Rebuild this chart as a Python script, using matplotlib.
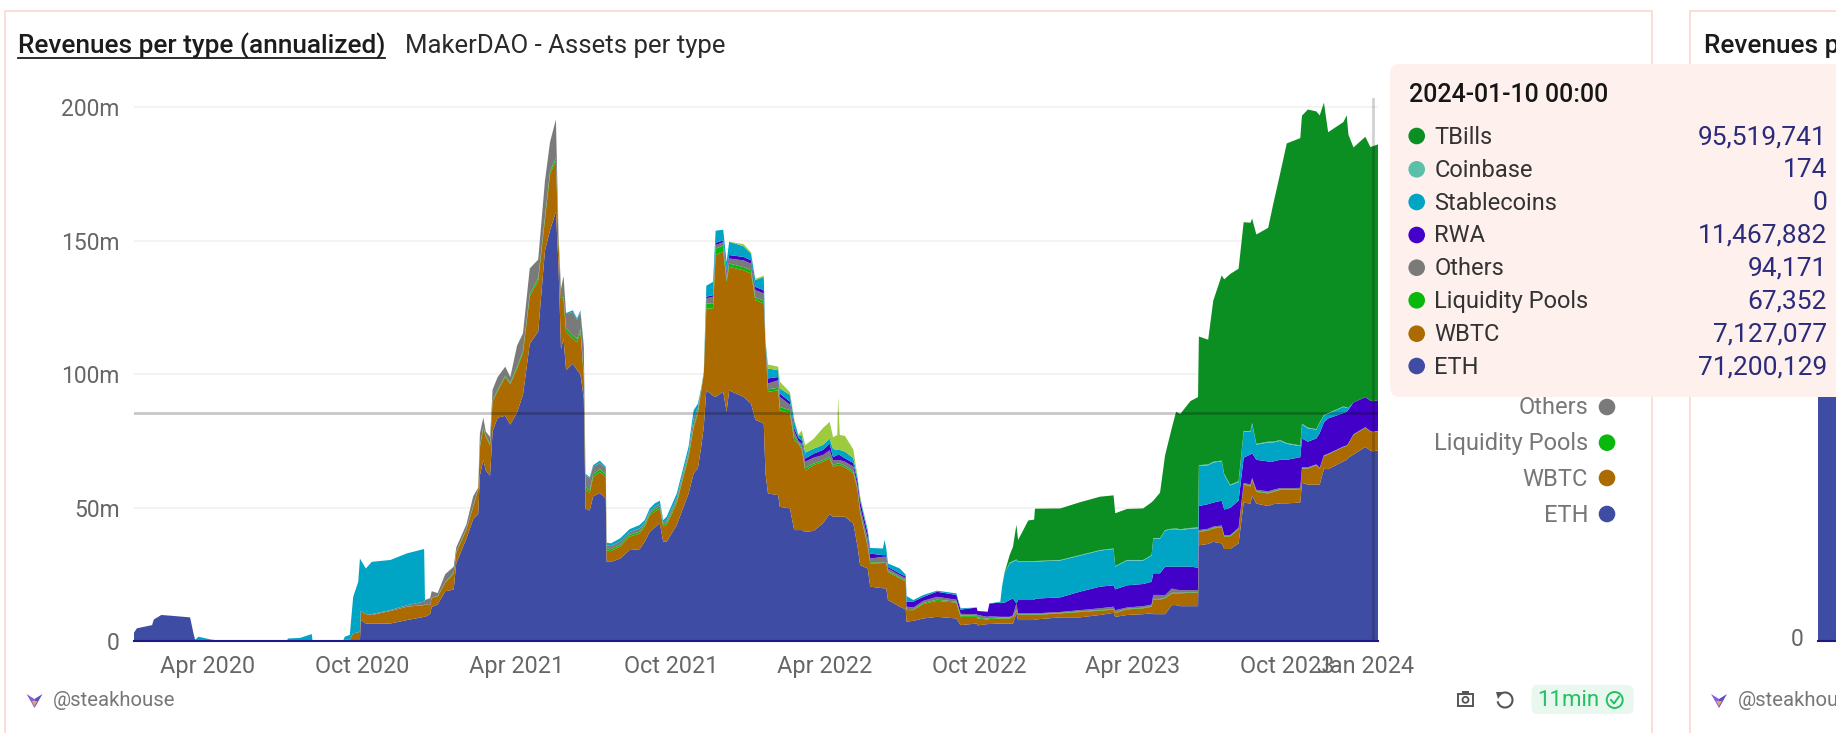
import numpy as np
import pandas as pd
import matplotlib
matplotlib.use("Agg")
import matplotlib.pyplot as plt
from matplotlib.patches import Circle, FancyBboxPatch, Polygon, Rectangle, Arc

plt.rcParams["font.family"] = ["Roboto", "DejaVu Sans"]

# days since 2020-01-04, one entry per sample
days = [0, 4, 22, 24, 33, 45, 67, 71, 73, 77,
        91, 106, 181, 183, 197, 211, 212, 248, 250, 256,
        260, 266, 268, 269, 275, 282, 304, 324, 344, 345,
        351, 353, 360, 369, 379, 382, 394, 402, 408, 410,
        414, 417, 422, 425, 431, 440, 446, 454, 461, 469,
        479, 487, 493, 500, 503, 506, 509, 512, 520, 525,
        529, 533, 535, 540, 544, 552, 559, 560, 565, 576,
        587, 599, 605, 611, 617, 623, 627, 631, 643, 651,
        657, 663, 668, 672, 675, 678, 686, 689, 698, 702,
        705, 722, 731, 736, 746, 748, 751, 763, 765, 777,
        782, 787, 791, 795, 805, 816, 824, 828, 833, 834,
        836, 842, 852, 857, 860, 869, 872, 887, 889, 891,
        893, 907, 914, 915, 923, 935, 951, 974, 979, 998,
        999, 1011, 1013, 1026, 1028, 1031, 1037, 1041, 1045, 1047,
        1053, 1059, 1066, 1067, 1097, 1120, 1144, 1160, 1162, 1176,
        1195, 1205, 1207, 1215, 1221, 1229, 1234, 1239, 1251, 1260,
        1261, 1272, 1278, 1288, 1291, 1298, 1308, 1314, 1322, 1324,
        1329, 1343, 1349, 1357, 1365, 1381, 1383, 1390, 1400, 1404,
        1409, 1414, 1432, 1436, 1438, 1444, 1458, 1464, 1467, 1473]

# all series in millions
eth = [3, 4.9, 6.1, 8.2, 9.9, 9.6, 9, 3, .5, .3,
       .1, .05, .05, 0, 0, 0, 0, 0, 0, 0,
       0, 0, 0, 8, 6.7, 6.6, 6.7, 8, 9.2, 9.2,
       10.2, 12.9, 13.8, 18.8, 19.4, 29.3, 38.5, 45.7, 47.7, 62.2,
       68, 64, 62, 78.6, 83.8, 84.5, 81.2, 85.8, 92.4, 111.4,
       116, 146.3, 154, 161, 141, 109.5, 113.4, 101.6, 104, 101.6,
       100, 91, 49.7, 49, 54.3, 55.6, 53.6, 29.8, 29.8, 31,
       34.2, 34.5, 37.3, 41, 42.7, 44.2, 37.3, 37.3, 43.6, 50.4,
       55.4, 63, 64.8, 73, 80.4, 94, 92, 91.6, 93.5, 86,
       94, 91.6, 89, 83, 81.6, 63, 55.4, 54.8, 50.4, 49.8,
       41.7, 41.7, 41.7, 41, 41.4, 44.2, 47.7, 46.7, 46.7, 46.7,
       46.7, 46.7, 44.2, 35.5, 28.6, 27.3, 20.5, 19.9, 19.9, 19.9,
       15.5, 13, 12, 7.4, 7.7, 8.6, 9.2, 8.6, 6.1, 6.7,
       6, 6.5, 6.5, 6.7, 6.7, 6.7, 6.7, 6.7, 10.5, 8,
       8, 8, 8, 8.2, 9, 9, 9.9, 10.7, 9.2, 9.9,
       10.2, 10.5, 10.2, 10.2, 10.2, 13.6, 13.6, 13.2, 13.2, 13.2,
       36, 36.5, 37.3, 36.7, 34.6, 34.6, 36.7, 52, 51.6, 54.5,
       51.6, 50.7, 51.4, 51.7, 51.7, 52, 59.4, 58.7, 58.7, 58.7,
       64.7, 64.5, 67.4, 68, 68.8, 70, 72.8, 71.5, 71.2, 71.5]

wbtc = [0, 0, 0, 0, 0, 0, 0, 0, 0, 0,
        0, 0, 0, .1, .2, .3, .1, .1, .6, .6,
        3, 3.4, 3.7, 3.4, 3.5, 3.3, 4.7, 5, 4.4, 4.8,
        3.3, 3.5, 3, 3.2, 6, 3.9, 3.3, 4.6, 9.2, 10.5,
        11.9, 12.6, 11.3, 11.2, 9.9, 14.5, 15.1, 16.4, 15.6, 17.8,
        19, 11.7, 21, 19, 9, 18.4, 14.5, 14.4, 9.4, 10.4,
        16, 8, 7.3, 6.6, 7.2, 7.9, 7.9, 4.4, 4, 4.5,
        5, 5.9, 5.7, 6.3, 5.9, 5.6, 5.7, 6.3, 8.1, 11.3,
        13.6, 17, 20.6, 21, 19.6, 30.7, 32.7, 53.1, 52.5, 48.7,
        46.3, 47.4, 48.8, 44.8, 45, 48.6, 38.1, 39.2, 36.2, 35.6,
        33.7, 32.3, 30, 23, 24.6, 23.1, 20.8, 18.7, 19.3, 19.3,
        19.3, 18.5, 18.8, 21.2, 19.4, 8.2, 8.7, 9.1, 9.1, 9.1,
        10.5, 10.6, 10.5, 4.3, 4, 5.4, 6, 5.9, 3.1, 2.5,
        2.6, 1.7, 1.9, 1.9, 1.9, 1.9, 1.9, 2.2, 1, 1.9,
        1.9, 1.9, 1.9, 1.7, 1.5, 2, 1.6, 1.2, 1.5, 2.1,
        2.2, 2.5, 5.5, 5.5, 5.9, 4.4, 4.4, 4.8, 5, 5,
        5, 5, 5, 6, 4.7, 4.7, 5.3, 6.7, 6.4, 6,
        4.4, 4.7, 4.6, 5, 5, 5, 5.3, 6, 7.3, 6,
        4.7, 5.5, 5.4, 5.2, 5.2, 7.4, 7.2, 7.1, 7.127, 7.2]

liquidity_pools = [0] * 32 + [
    .2, .2, .3, .3, .3, .3, .2, .5,
    .5, .5, .5, .5, .5, .5, .5, .7, .8, 1,
    1, 1, 1, 1, .5, .7, 1, 1.2, 1.2, 1.2,
    1.2, 1, 1, 1, 1, 1, 1, .8, .7, .7,
    .7, .7, .7, .7, .8, .8, .7, .7, .8, .8,
    .8, .8, .8, .5, .5, 1.9, 1.9, 2.4, 2.2, 1,
    1.2, 1.2, 1.2, 1, 1, .5, .9, 1, 1.2, 1.2,
    1.3, .5, .8, 1, .6, .6, .6, .6, .6, .6,
    .6, .6, .6, .5, .5, .6, .5, .5, .5, .5,
    .4, .4, .4, .5, .3, .4, .4, .4, .5, .4,
    .3, .3, .3, .3, .3, .3, .3, .3, .2, .2,
    .2, .2, .2, .2, .2, .2, .2, .2, .2, .2,
    .2, .2, .2, .2, .2, .2, .2, .2, .2, .2,
    .2, .2, .2, .2, .2, .2, .2, .2, .2, .2,
    .2, .2, .2, .2, .2, .1, .1, .1, .1, .1,
    .1, .1, .1, .1, .1, .1, .1, .07, .067, .07]

others = [0] * 25 + [
    .3, .3, .6, 1.3, 1.5,
    2.7, 2.4, 1.1, 3, 2.3, 1.7, 1.7, 3.7, .5, 4.7,
    3.4, 1.5, 2.8, 4, 4.8, 3.4, 2.2, 7.9, 6.6, 9.5,
    7, 13.5, 11, 14.5, 2.5, 3.4, 8, 5.4, 8.8, 7.2,
    6.2, 10.3, 4.3, 4.4, 3, 2.2, 2.4, 1, 1.2, 1.2,
    1, 1.2, .7, .7, 1, 1, .7, 1, 1.2, 1.2,
    1.2, 2.8, 1.2, .5, .5, 1.9, 2.5, 1.3, 1.3, 2,
    1.9, 2.5, 2.5, 2.8, 2.7, .5, 2.2, 2.8, 3.8, 2,
    2, .6, 1.5, 2.3, 2.2, 1.9, 2.5, 1.9, 1.3, 1.3,
    1.3, 1.5, 1.9, .8, 2, 2.5, 1.3, 2.2, 2.2, 2.2,
    .9, .8, .8, .8, .7, .8, 1.1, .7, .6, .6,
    1, .7, .7, .3, .3, .3, .3, .6, 2.5, .4,
    .4, .4, .4, .4, .3, .5, .7, .9, .8, .5,
    .6, .6, 1.5, 1.5, 1, 1.6, 1.2, 1, .8, .8,
    .5, .5, .5, .5, .3, .3, .3, .4, .6, .5,
    .6, .6, .6, .5, .5, .4, .4, .4, .2, .2,
    .2, .2, .1, .1, .1, .1, .1, .09, .094, .09]

rwa = [0] * 85 + [
    .6, .6, .9, .7, 1,
    1.3, 1.3, 1.2, 1.2, 1.2, 0, 1.9, 1.2, 1.2, 1.2,
    1.2, 1.1, 1.2, 1.2, 1.5, 1.9, 2.5, 1.1, 1.9, 1.9,
    1.9, 1.3, 1.3, 1.9, 2.3, 1.9, 1.9, .6, .6, .6,
    .6, .6, .6, 1.9, 2.2, 1.5, 1.9, 1.8, 1.6, 2.5,
    1.5, 1.9, 4.8, 5.3, 5.3, 5.3, 6.3, 6.3, 0, 5,
    5, 5, 5, 5.5, 5.5, 6.9, 8.1, 8, 7.8, 8.3,
    8.3, 8.5, 8.1, 8.1, 10.7, 8.2, 8.5, 8.8, 8.8, 8.4,
    9, 9.2, 9, 9.3, 9.6, 10.2, 10.2, 9.5, 11.2, 9.3,
    11.2, 11.2, 10.6, 10.6, 10.6, 11.5, 10.8, 9.6, 9.7, 13,
    12.3, 13.2, 12.5, 12.6, 12.6, 11.9, 11.3, 11.4, 11.468, 11.5]

stablecoins = [0, 0, 0, 0, 0, 0, 0, 0, .2, 1.45,
               .65, .05, .05, 1, 1.1, 2.45, 0, 0, 1.15, 1.8,
               13.7, 18.9, 27.3, 19.1, 17.1, 19.6, 18.8, 19.4, 19.7, 0,
               0, 0, 0, 0, 0, 0, 0, 0, 0, 0,
               0, 0, 0, 0, 0, 0, 0, 0, 0, 0,
               0, 0, 0, 0, 0, 0, 0, .4, .6, .6,
               .6, .5, .5, .5, .5, 1, .5, 1, 1, 1.2,
               1.1, 1.3, 1, 1.1, 1.3, 1.1, 1, 1.4, 1.7, 1.7,
               2, 3, 1.6, 0, 0, 4.1, 5, 4.5, 4, 3.3,
               5, 4, 2.5, 2.5, 5, 0, 3.7, 2.6, 2, 2.5,
               2.8, 1, 2, 2.2, 1.9, 1.9, 1.9, 3.1, 1.9, 1.9,
               1.9, 2.5, 1.9, 1.3, 1, 1.3, 2.1, 2.5, 5.7, 2.5,
               1.3, 1.9, .7, 2.1, .6, .7, .4, .6, .5, 0,
               0, 0, 0, .4, 6, 11, 13.7, 13.7, 16.3, 14.3,
               14.3, 14.3, 14.3, 13.9, 13.8, 13.5, 13.5, 13.6, 8.5, 9.3,
               8.8, 9.8, 13, 13, 13.5, 14, 14.1, 13.7, 14.2, 14.8,
               15, 14.6, 15, 14.7, 13, 8.4, 7, 9.7, 8.5, 11,
               5.7, 7.1, 7.1, 7.1, 6, 4.1, 5.2, 5, 3.3, 3.8,
               2.6, 1.8, 2.3, 1.5, .5, 0, 0, 0, 0, 0]

coinbase = [0] * 136 + [
    .3, .3, .2, .2,
    .2, .2, .2, .2, .2, .2, .2, .2, .2, .2,
    .2, .2, .2, .2, .2, .2, .3, .3, .3, .3,
    .3, .3, .3, .3, .3, .3, .3, .3, .3, .3,
    .3, .3, .3, .3, .3, .3, .3, .3, .2, .2,
    .2, .2, .2, .2, .1, 0, 0, 0, .0002, 0]

tbills = [0] * 135 + [
    .3, 2.8, 5.4, 13, 8,
    11.6, 15.3, 15.6, 19.6, 19.3, 19.8, 20, 19.9, 19.8, 19.1,
    19.3, 19.8, 14, 17, 28, 37.8, 43.7, 43.2, 47.5, 48.8,
    48.2, 46.7, 60.3, 69.4, 72.9, 78.9, 79.6, 78.2, 78, 76.6,
    78.4, 80.1, 89, 99.6, 112.2, 115.1, 115.4, 119.1, 119, 115,
    117, 105.2, 106.5, 109.3, 102.4, 95.5, 97.5, 95, 95.52, 95.8]

# light green band of 2022, its legend entry sits behind the tooltip
light_green = [0] * 91 + [
    .8, .5, .5, .5, 0, 1.5, 1.3, 2.5, 1,
    .7, .2, 1.8, 2.8, 3.7, 6.3, 6.2, 4.4, 5.6, 19.9,
    5.6, 5.9, 3.2, .5, .6] + [0] * 75

start_date = "2020-01-04"
end_date = "2024-01-16"
hover_date = "2024-01-10"
hover_level = 85.4

tick_dates = ["2020-04-01", "2020-10-01", "2021-04-01", "2021-10-01", "2022-04-01",
              "2022-10-01", "2023-04-01", "2023-10-01", "2024-01-01"]
tick_labels = ["Apr 2020", "Oct 2020", "Apr 2021", "Oct 2021", "Apr 2022",
               "Oct 2022", "Apr 2023", "Oct 2023", "Jan 2024"]
y_ticks = [0, 50, 100, 150, 200]
y_labels = ["0", "50m", "100m", "150m", "200m"]

tooltip_names = ["TBills", "Coinbase", "Stablecoins", "RWA", "Others", "Liquidity Pools", "WBTC", "ETH"]
tooltip_values = ["95,519,741", "174", "0", "11,467,882", "94,171", "67,352", "7,127,077", "71,200,129"]
legend_names = ["Others", "Liquidity Pools", "WBTC", "ETH"]

colors = {"ETH": "#3f4ca3", "WBTC": "#ab6b00", "Liquidity Pools": "#08b90c", "Others": "#7a7a7a",
          "RWA": "#4300c8", "Stablecoins": "#00a4c4", "Coinbase": "#5cbfa9", "TBills": "#0b8e22"}
light_green_color = "#9ccb3f"

W, H = 1836, 733
fig = plt.figure(figsize=(W / 100, H / 100), dpi=100, facecolor="white")

# plot area in pixels of the picture
left, right, top, base = 133.5, 1378, 90, 641.4
px_per_m = 2.67
ax = fig.add_axes([left / W, 1 - base / H, (right - left) / W, (base - top) / H])

dates = pd.Timestamp(start_date) + pd.to_timedelta(days, unit="D")
ax.stackplot(dates, eth, wbtc, liquidity_pools, others, rwa, stablecoins, coinbase, tbills, light_green,
             colors=[colors["ETH"], colors["WBTC"], colors["Liquidity Pools"], colors["Others"], colors["RWA"],
                     colors["Stablecoins"], colors["Coinbase"], colors["TBills"], light_green_color],
             linewidth=0, zorder=2)

ax.set_xlim(pd.Timestamp(start_date), pd.Timestamp(end_date))
ax.set_ylim(0, (base - top) / px_per_m)
ax.set_xticks(pd.to_datetime(tick_dates))
ax.set_xticklabels(tick_labels, fontsize=16.8, color="#666666")
ax.set_yticks(y_ticks)
ax.set_yticklabels(y_labels, fontsize=16.5, color="#666666")
ax.tick_params(axis="x", length=0, pad=9.5)
ax.tick_params(axis="y", length=0, pad=10)
ax.grid(True, axis="y", color="#f1f1f1", linewidth=1.2, zorder=0)
ax.set_axisbelow(True)
for side in ["top", "right", "left"]:
    ax.spines[side].set_visible(False)
ax.spines["bottom"].set_color("#1c1c80")
ax.spines["bottom"].set_linewidth(1.5)
ax.spines["bottom"].set_zorder(5)

# crosshair of the hovered point
ax.axhline(hover_level, color="black", alpha=0.22, linewidth=2, zorder=4)
ax.plot([pd.Timestamp(hover_date)] * 2, [0, 203], color="black", alpha=0.18, linewidth=2, zorder=4)

# neighbouring panel: only the edge of its bar shows
right_panel_bar = [150]
ax2 = fig.add_axes([1818 / W, 1 - base / H, 18 / W, (base - top) / H])
ax2.bar([0], right_panel_bar, width=1, align="edge", color=colors["ETH"])
ax2.set_xlim(0, 1)
ax2.set_ylim(0, (base - top) / px_per_m)
ax2.axis("off")

# everything around the plot is placed in picture pixels
ov = fig.add_axes([0, 0, 1, 1], zorder=10)
ov.set_xlim(0, W)
ov.set_ylim(H, 0)
ov.axis("off")

border = "#fbdcd5"
ov.plot([4.7, 4.7, 1651.6, 1651.6], [H, 10.8, 10.8, H], color=border, linewidth=1.4)
ov.plot([1689.7, 1689.7, W], [H, 10.8, 10.8], color=border, linewidth=1.4)

ov.text(18, 45.5, "Revenues per type (annualized)", fontsize=18.9, fontweight="medium", color="#1c1c1c", va="center")
ov.plot([18, 385], [57.5, 57.5], color="#1c1c1c", linewidth=1.3)
ov.text(404.6, 45.5, "MakerDAO - Assets per type", fontsize=18.5, color="#2a2a2a", va="center")
ov.text(1703.7, 45.5, "Revenues per type", fontsize=18.9, fontweight="medium", color="#1c1c1c", va="center")
ov.text(1797, 640, "0", fontsize=16.5, color="#666666", va="center", ha="center")
ov.plot([1818, W], [641.4, 641.4], color="#1c1c80", linewidth=1.5)


def draw_logo(x, y):
    ov.add_patch(Polygon([[x - 8, y - 6], [x, y - 1], [x, y + 8]], color="#8a5fd8", lw=0))
    ov.add_patch(Polygon([[x + 8, y - 6], [x, y - 1], [x, y + 8]], color="#5b4fc4", lw=0))
    ov.add_patch(Polygon([[x - 3, y + 1], [x + 3, y + 1], [x, y + 6]], color="#e9a25f", lw=0))


draw_logo(34.5, 700)
ov.text(52.7, 701, "@steakhouse", fontsize=14.6, color="#777777", va="center")
draw_logo(1719, 700)
ov.text(1737.7, 701, "@steakhouse", fontsize=14.6, color="#777777", va="center")

# legend entries left visible under the tooltip
legend_y = [407, 442.7, 478, 514]
for name, y in zip(legend_names, legend_y):
    ov.text(1588, y + 1, name, fontsize=17, color="#777777", va="center", ha="right")
    ov.add_patch(Circle((1607, y), 8.3, color=colors[name], lw=0))

# tooltip
ov.add_patch(FancyBboxPatch((1390, 64), 480, 333, boxstyle="round,pad=0,rounding_size=10",
                            facecolor="#fef0ec", edgecolor="none", linewidth=0, zorder=6))
ov.text(1409, 95.3, "2024-01-10 00:00", fontsize=18, fontweight="medium", color="#161616", va="center", zorder=7)
tooltip_y = [136, 169.3, 202, 235, 267.7, 300.3, 333.7, 366]
for name, value, y in zip(tooltip_names, tooltip_values, tooltip_y):
    ov.add_patch(Circle((1416.7, y), 8.3, color=colors[name], lw=0, zorder=7))
    ov.text(1434.3, y + 1, name, fontsize=17, color="#333333", va="center", zorder=7)
    ov.text(1827, y + 1, value, fontsize=19, color="#2b2b7c", va="center", ha="right", zorder=7)

# camera and reset icons
ov.add_patch(Rectangle((1458, 693.5), 15, 12.5, fill=False, edgecolor="#555555", linewidth=1.4))
ov.add_patch(Rectangle((1462, 691), 7, 3, color="#555555", lw=0))
ov.add_patch(Circle((1465.5, 699.8), 3, fill=False, edgecolor="#555555", linewidth=1.3))
ov.add_patch(Arc((1505, 700), 15, 15, theta1=-140, theta2=170, color="#555555", linewidth=1.5))
ov.add_patch(Polygon([[1496, 692], [1503, 692], [1498, 699]], color="#555555", lw=0))

# freshness badge
ov.add_patch(FancyBboxPatch((1531.6, 685), 102, 29, boxstyle="round,pad=0,rounding_size=6",
                            facecolor="#e8f8ee", edgecolor="none", linewidth=0))
ov.text(1568, 701, "11min", fontsize=16, color="#26bf63", va="center", ha="center")
ov.add_patch(Circle((1614.7, 700), 8, fill=False, edgecolor="#26bf63", linewidth=1.4))
ov.plot([1611, 1614, 1619], [700, 703.5, 696.5], color="#26bf63", linewidth=1.4)

fig.savefig("out.png", dpi=100, facecolor="white")
